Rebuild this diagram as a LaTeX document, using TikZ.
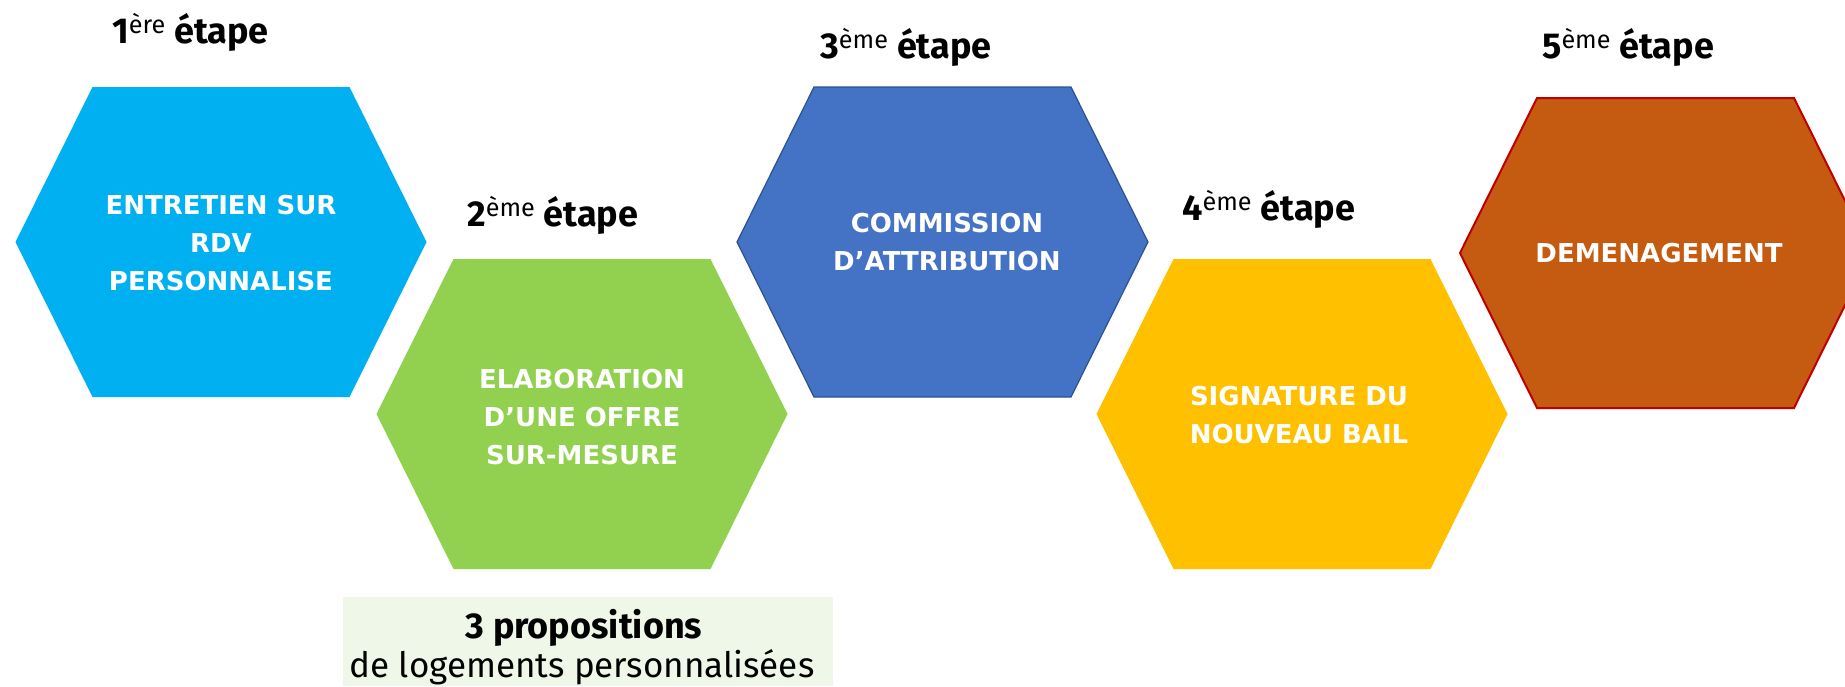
\documentclass[tikz,border=0pt]{standalone}
\usepackage{fontspec}
\setmainfont{Fira Sans}
\newfontfamily\hexfont{DejaVu Sans}
\definecolor{cA}{HTML}{00B0F0}
\definecolor{cB}{HTML}{92D050}
\definecolor{cC}{HTML}{4472C4}
\definecolor{cCb}{HTML}{2F528F}
\definecolor{cD}{HTML}{FFC000}
\definecolor{cE}{HTML}{C55A11}
\definecolor{cEb}{HTML}{C00000}
\definecolor{boxfill}{HTML}{EFF7E8}
\tikzset{
  hexa/.pic={\path[pic actions] (-205.5,0) -- (-128.5,-155) -- (128.5,-155) -- (205.5,0) -- (128.5,155) -- (-128.5,155) -- cycle;},
  hextext/.style={text=white, align=center, inner sep=0pt, font=\hexfont\bfseries\fontsize{26}{38}\selectfont},
  steplabel/.style={anchor=base west, inner sep=0pt, font=\bfseries\fontsize{36}{40}\selectfont},
}
\newcommand{\etsup}[1]{\textsuperscript{\mdseries #1}}
\begin{document}
\begin{tikzpicture}[x=1pt,y=-1pt]
\clip (0,0) rectangle (1845,686);
\fill[white] (0,0) rectangle (1845,686);
% hexagons
\pic[fill=cA] at (221,242) {hexa};
\pic[fill=cB] at (582,414) {hexa};
\pic[fill=cC, draw=cCb, line width=1.2pt] at (942.5,242) {hexa};
\pic[fill=cD] at (1302,414) {hexa};
\pic[fill=cE, draw=cEb, line width=2pt] at (1665.5,253) {hexa};
% hexagon texts
\node[hextext] (t1) at (221,243.5) {ENTRETIEN SUR\\RDV\\PERSONNALISE};
\node[hextext] (t2) at (582,417) {ELABORATION\\D’UNE OFFRE\\SUR-MESURE};
\node[hextext] (t3) at (947,242.5) {COMMISSION\\D’ATTRIBUTION};
\node[hextext] (t4) at (1299,415) {SIGNATURE DU\\NOUVEAU BAIL};
\node[hextext] (t5) at (1659,253) {DEMENAGEMENT};
% step labels
\node[steplabel] (s1) at (112,43) {1\etsup{ère} étape};
\node[steplabel] (s2) at (467,226) {2\etsup{ème} étape};
\node[steplabel] (s3) at (820,58) {3\etsup{ème} étape};
\node[steplabel] (s4) at (1182,220) {4\etsup{ème} étape};
\node[steplabel] (s5) at (1542,58) {5\etsup{ème} étape};
% bottom box
\node[fill=boxfill, minimum width=490pt, minimum height=89pt, inner sep=0pt] (box) at (588,641.5) {};
\node[anchor=base, inner sep=0pt, font=\bfseries\fontsize{36}{40}\selectfont] (p1) at (584,638) {3 propositions};
\node[anchor=base, inner sep=0pt, font=\fontsize{35}{40}\selectfont] (p2) at (582,677) {de logements personnalisées};
\end{tikzpicture}
\end{document}
